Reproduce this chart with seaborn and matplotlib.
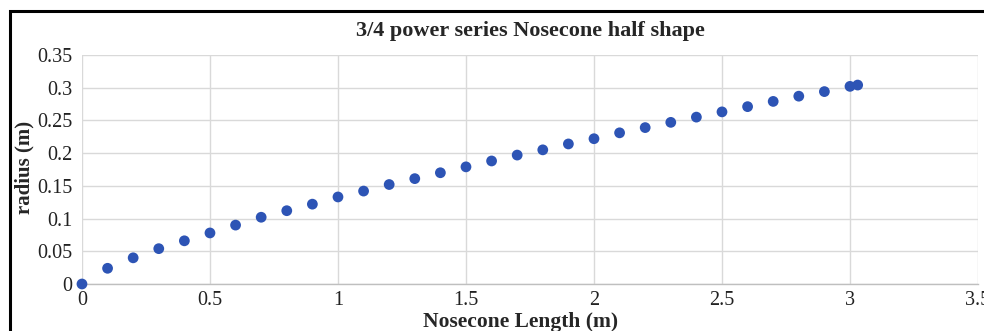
import matplotlib
matplotlib.use("Agg")
import matplotlib.pyplot as plt
import seaborn as sns
import pandas as pd
from matplotlib.patches import Rectangle

length_m = [0.0, 0.1, 0.2, 0.3, 0.4, 0.5, 0.6, 0.7, 0.8, 0.9, 1.0,
            1.1, 1.2, 1.3, 1.4, 1.5, 1.6, 1.7, 1.8, 1.9, 2.0,
            2.1, 2.2, 2.3, 2.4, 2.5, 2.6, 2.7, 2.8, 2.9, 3.0, 3.03]
radius_m = [0.0, 0.024, 0.040, 0.054, 0.066, 0.078, 0.090, 0.102, 0.112, 0.122, 0.133,
            0.142, 0.152, 0.161, 0.170, 0.179, 0.188, 0.197, 0.205, 0.214, 0.222,
            0.231, 0.239, 0.247, 0.255, 0.263, 0.271, 0.279, 0.287, 0.294, 0.302, 0.304]
x_ticks = [0, 0.5, 1, 1.5, 2, 2.5, 3, 3.5]
x_tick_labels = ["0", "0.5", "1", "1.5", "2", "2.5", "3", "3.5"]
y_ticks = [0, 0.05, 0.1, 0.15, 0.2, 0.25, 0.3, 0.35]
y_tick_labels = ["0", "0.05", "0.1", "0.15", "0.2", "0.25", "0.3", "0.35"]

df = pd.DataFrame({"length": length_m, "radius": radius_m})

sns.set_style("white")
plt.rcParams["font.family"] = ["Liberation Serif", "DejaVu Serif"]

fig = plt.figure(figsize=(9.84, 3.31), dpi=100)
ax = fig.add_axes([0.0833, 0.142, 0.9106, 0.692])

sns.scatterplot(data=df, x="length", y="radius", ax=ax, color="#2d54b5",
                s=60, edgecolor="none", zorder=3, clip_on=False)

ax.set_xlim(0, 3.5)
ax.set_ylim(0, 0.35)
ax.set_xticks(x_ticks)
ax.set_xticklabels(x_tick_labels)
ax.set_yticks(y_ticks)
ax.set_yticklabels(y_tick_labels)
ax.tick_params(axis="both", labelsize=14.5, length=0, colors="#222222")
ax.tick_params(axis="x", pad=5)
ax.tick_params(axis="y", pad=7)
ax.grid(True, color="#d9d9d9", linewidth=1.0)
ax.set_axisbelow(True)
for side in ["top", "right", "left"]:
    ax.spines[side].set_visible(False)
ax.spines["bottom"].set_color("#bfbfbf")
ax.spines["bottom"].set_linewidth(1.0)

ax.set_xlabel("Nosecone Length (m)", fontsize=15.5, fontweight="bold")
ax.set_ylabel("radius (m)", fontsize=15, fontweight="bold")
ax.xaxis.set_label_coords(0.489, -0.122)
ax.yaxis.set_label_coords(-0.053, 0.51)
fig.text(0.539, 0.905, "3/4 power series Nosecone half shape", ha="center", va="center",
         fontsize=16, fontweight="bold")

border = Rectangle((10 / 984, -0.1), 1.2, 1.1 - 11 / 331, transform=fig.transFigure,
                   fill=False, edgecolor="black", linewidth=2.2, clip_on=False)
fig.patches.append(border)

fig.savefig("out.png", dpi=100)
